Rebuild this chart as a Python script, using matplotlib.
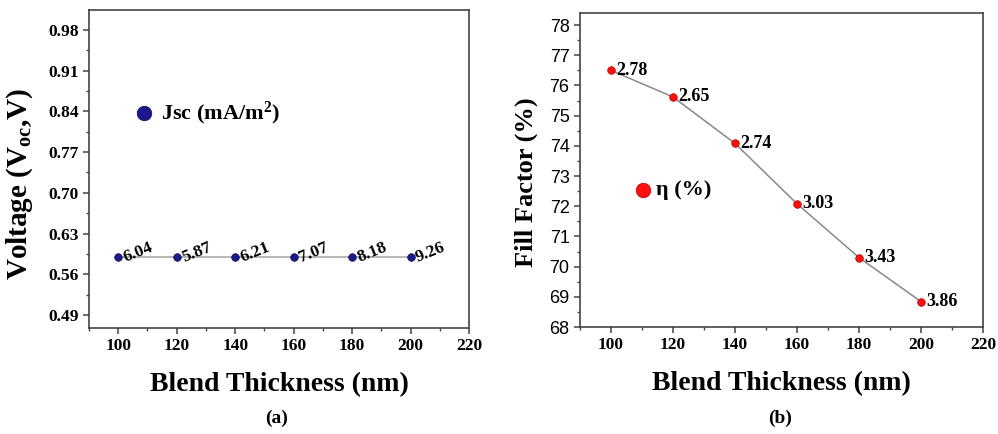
import matplotlib
matplotlib.use("Agg")
from matplotlib import pyplot as plt
from matplotlib.ticker import MultipleLocator, FixedLocator

thickness = [100, 120, 140, 160, 180, 200]
voc = [0.589, 0.589, 0.589, 0.589, 0.589, 0.589]
jsc_labels = ["6.04", "5.87", "6.21", "7.07", "8.18", "9.26"]
fill_factor = [76.5, 75.62, 74.08, 72.08, 70.3, 68.84]
eta_labels = ["2.78", "2.65", "2.74", "3.03", "3.43", "3.86"]
voc_ticks = [0.49, 0.56, 0.63, 0.70, 0.77, 0.84, 0.91, 0.98]
ff_ticks = [68, 69, 70, 71, 72, 73, 74, 75, 76, 77, 78]
x_ticks = [100, 120, 140, 160, 180, 200, 220]

serif = "Liberation Serif"
plt.rcParams["mathtext.fontset"] = "custom"
plt.rcParams["mathtext.rm"] = serif
plt.rcParams["mathtext.bf"] = serif + ":bold"
plt.rcParams["mathtext.it"] = serif + ":italic"
fig = plt.figure(figsize=(9.98, 4.34), dpi=100)


def style_axes(ax):
    for s in ax.spines.values():
        s.set_color("#444444")
        s.set_linewidth(1.2)
    ax.set_xlim(90, 220)
    ax.xaxis.set_major_locator(FixedLocator(x_ticks))
    ax.xaxis.set_minor_locator(MultipleLocator(10))
    ax.tick_params(which="both", direction="out", color="#444444")
    ax.tick_params(which="major", length=4, width=1.1)
    ax.tick_params(which="minor", length=2.5, width=1)
    for t in ax.get_xticklabels():
        t.set_fontfamily(serif)
        t.set_fontweight("bold")
        t.set_fontsize(12.5)
    ax.set_xlabel("Blend Thickness (nm)", fontfamily=serif, fontweight="bold",
                  fontsize=20, labelpad=13)


# (a) Voc
ax1 = fig.add_axes([0.0892, 0.2442, 0.3808, 0.7327])
ax1.plot(thickness, voc, color="#aaaaaa", lw=1.2, zorder=1)
ax1.scatter(thickness, voc, s=30, color="#1a1a8c", edgecolors="#0a0a50",
            linewidths=0.5, zorder=3)
for x, y, lab in zip(thickness, voc, jsc_labels):
    ax1.annotate(lab, (x, y), xytext=(4, -1), textcoords="offset points",
                 rotation=22, fontfamily=serif, fontweight="bold", fontsize=12.5,
                 ha="left", va="center", rotation_mode="anchor")
ax1.set_ylim(0.4676, 1.014)
ax1.yaxis.set_major_locator(FixedLocator(voc_ticks))
ax1.yaxis.set_minor_locator(MultipleLocator(0.035))
ax1.set_yticklabels(["%.2f" % v for v in voc_ticks], fontfamily=serif,
                    fontweight="bold", fontsize=12.5)
style_axes(ax1)
ax1.set_ylabel("Voltage (V$_{\\mathbf{oc}}$,V)", fontfamily=serif,
               fontweight="bold", fontsize=21)
ax1.yaxis.set_label_coords(-0.142, 0.455)
ax1.scatter([108.8], [0.837], s=110, color="#1a1a8c", edgecolors="#0a0a50",
            linewidths=0.5, zorder=3)
ax1.text(114.5, 0.837, "Jsc (mA/m$^{\\mathbf{2}}$)", fontfamily=serif,
         fontweight="bold", fontsize=16, va="center", ha="left")

# (b) Fill factor
ax2 = fig.add_axes([0.5812, 0.2465, 0.4038, 0.7235])
ax2.plot(thickness, fill_factor, color="#888888", lw=1.1, zorder=1)
ax2.scatter(thickness, fill_factor, s=30, color="#ff1010", edgecolors="#b00000",
            linewidths=0.5, zorder=3)
for x, y, lab in zip(thickness, fill_factor, eta_labels):
    ax2.annotate(lab, (x, y), xytext=(4, 0), textcoords="offset points",
                 fontfamily=serif, fontweight="bold", fontsize=13,
                 ha="left", va="center")
ax2.set_ylim(68, 78.4)
ax2.yaxis.set_major_locator(FixedLocator(ff_ticks))
ax2.yaxis.set_minor_locator(MultipleLocator(0.5))
ax2.set_yticklabels([str(v) for v in ff_ticks], fontfamily="Liberation Sans",
                    fontsize=13)
style_axes(ax2)
ax2.set_ylabel("Fill Factor (%)", fontfamily=serif, fontweight="bold",
               fontsize=19)
ax2.yaxis.set_label_coords(-0.105, 0.46)
ax2.scatter([110.3], [72.55], s=110, color="#ff1010", edgecolors="#b00000",
            linewidths=0.5, zorder=3)
ax2.text(114.5, 72.55, "η (%)", fontfamily=serif, fontweight="bold",
         fontsize=16, va="center", ha="left")

fig.text(0.2776, 0.037, "(a)", fontfamily=serif, fontweight="bold",
         fontsize=14, ha="center", va="center")
fig.text(0.7816, 0.037, "(b)", fontfamily=serif, fontweight="bold",
         fontsize=14, ha="center", va="center")

fig.savefig("out.png", dpi=100)
